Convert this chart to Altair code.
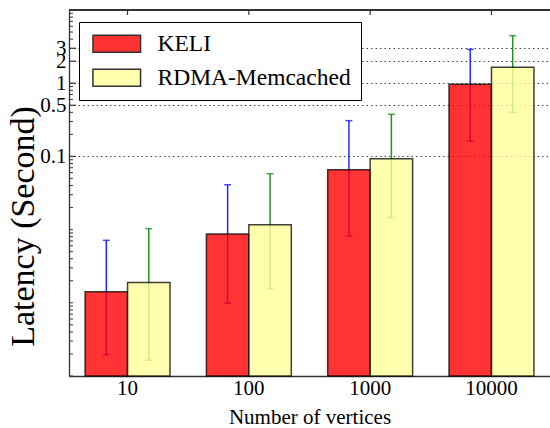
import altair as alt
import pandas as pd

categories = ["10", "100", "1000", "10000"]
series = ["KELI", "RDMA-Memcached"]

keli_mean = [0.00142, 0.0087, 0.0659, 0.966]
keli_low = [0.000195, 0.00099, 0.00818, 0.162]
keli_high = [0.00714, 0.041, 0.308, 2.90]

rdma_mean = [0.0019, 0.01167, 0.0931, 1.65]
rdma_low = [0.000164, 0.00156, 0.01455, 0.40]
rdma_high = [0.0103, 0.058, 0.376, 4.46]

y_labels = [0.1, 0.5, 1, 2, 3]
minor_mult = [1, 2, 3, 4, 5, 6, 7, 8, 9]
decades = [1e-4, 1e-3, 1e-2, 1e-1, 1]
y_min, y_max = 1e-4, 10

bar_fill = ["#ff0000", "#ffff99"]
err_color = ["#0000ff", "#008000"]

W, H = 481, 366
FONT = "Liberation Serif, Times New Roman, Times, serif"

rows = []
for i, c in enumerate(categories):
    rows.append(dict(cat=c, series=series[0], grp="e" + series[0], mean=keli_mean[i], low=keli_low[i], high=keli_high[i]))
    rows.append(dict(cat=c, series=series[1], grp="e" + series[1], mean=rdma_mean[i], low=rdma_low[i], high=rdma_high[i]))
df = pd.DataFrame(rows)
grp_domain = ["e" + s for s in series]

minor_vals = [d * m for d in decades for m in minor_mult if d * m not in y_labels]
minor_vals.append(y_max)
major_df = pd.DataFrame({"v": y_labels})
minor_df = pd.DataFrame({"v": minor_vals})
cat_df = pd.DataFrame({"cat": categories})

yscale = alt.Scale(type="log", domain=[y_min, y_max], nice=False)
xscale = alt.Scale(domain=categories, paddingInner=0.3, paddingOuter=0.1325)
xoff = alt.XOffset("series:N", scale=alt.Scale(domain=series, paddingInner=0, paddingOuter=0))

x_axis = alt.Axis(title="Number of vertices", labelAngle=0, ticks=False, domain=True,
                  domainColor="#333333", domainWidth=1.3, labelFont=FONT, labelFontSize=21,
                  labelColor="black", labelPadding=1, titleFont=FONT, titleFontSize=21,
                  titleFontWeight="normal", titleColor="black", titleBaseline="alphabetic",
                  titleY=47, grid=False)
y_axis = alt.Axis(title="Latency (Second)", values=y_labels, format="~g", ticks=False,
                  labelOverlap=False, labelFont=FONT, labelFontSize=21, labelColor="black",
                  labelPadding=3, domainColor="#333333", domainWidth=1.3, grid=True,
                  gridDash=[1.5, 3], gridColor="#444444", gridWidth=1.2,
                  titleFont=FONT, titleFontSize=34, titleFontWeight="normal", titleColor="black",
                  titleBaseline="alphabetic", titleX=-36, titleY=216, titleAngle=270)


def X():
    return alt.X("cat:N", scale=xscale, axis=x_axis, sort=categories)


def Y(field):
    return alt.Y(f"{field}:Q", scale=yscale, axis=y_axis)


err_scale = alt.Scale(domain=grp_domain, range=err_color)
base = alt.Chart(df)

err = base.mark_rule(strokeWidth=1.5, opacity=0.85).encode(
    x=X(), xOffset=xoff, y=Y("low"), y2="high",
    stroke=alt.Stroke("grp:N", scale=err_scale, legend=None),
)
cap_low = base.mark_tick(thickness=1.5, size=7, opacity=0.7).encode(
    x=X(), xOffset=xoff, y=Y("low"),
    color=alt.Color("grp:N", scale=err_scale, legend=None),
)
cap_high = base.mark_tick(thickness=1.5, size=7, opacity=0.7).encode(
    x=X(), xOffset=xoff, y=Y("high"),
    color=alt.Color("grp:N", scale=err_scale, legend=None),
)
bars = base.mark_bar(fillOpacity=0.8, stroke="black", strokeOpacity=0.75, strokeWidth=1.5).encode(
    x=X(), xOffset=xoff, y=Y("mean"), y2=alt.datum(y_min),
    fill=alt.Fill("series:N", scale=alt.Scale(domain=series, range=bar_fill),
                  legend=alt.Legend(title=None, orient="none", legendX=10, legendY=12,
                                    strokeColor="black", fillColor="white", padding=10,
                                    symbolType="M-2.8,-1L2.8,-1L2.8,1L-2.8,1Z", symbolSize=289,
                                    symbolOpacity=0.8, symbolStrokeColor="black",
                                    symbolStrokeWidth=1.5, symbolOffset=16, labelOffset=29,
                                    labelFont=FONT, labelFontSize=23.5, labelColor="black",
                                    rowPadding=9, labelLimit=400)),
)

major_ticks = alt.Chart(major_df).mark_rule(color="#333333", strokeWidth=1.2).encode(
    y=Y("v"), x=alt.value(0), x2=alt.value(7))
minor_ticks = alt.Chart(minor_df).mark_rule(color="#333333", strokeWidth=1).encode(
    y=Y("v"), x=alt.value(0), x2=alt.value(4))
top_spine = alt.Chart(cat_df).mark_rule(color="#333333", strokeWidth=1.3).encode(
    y=alt.value(0), x=alt.value(0), x2=alt.value(W))
top_ticks = alt.Chart(cat_df).mark_rule(color="#333333", strokeWidth=1.2).encode(
    x=X(), y=alt.value(0), y2=alt.value(5))

chart = alt.layer(err, cap_low, cap_high, bars, major_ticks, minor_ticks, top_spine, top_ticks).properties(
    width=W, height=H,
    autosize=alt.AutoSizeParams(type="none"),
    padding={"left": 69, "top": 10, "right": 0, "bottom": 52},
).configure_view(stroke=None).configure(background="white")

chart.save("out.html", embed_options={"renderer": "svg", "actions": False})
